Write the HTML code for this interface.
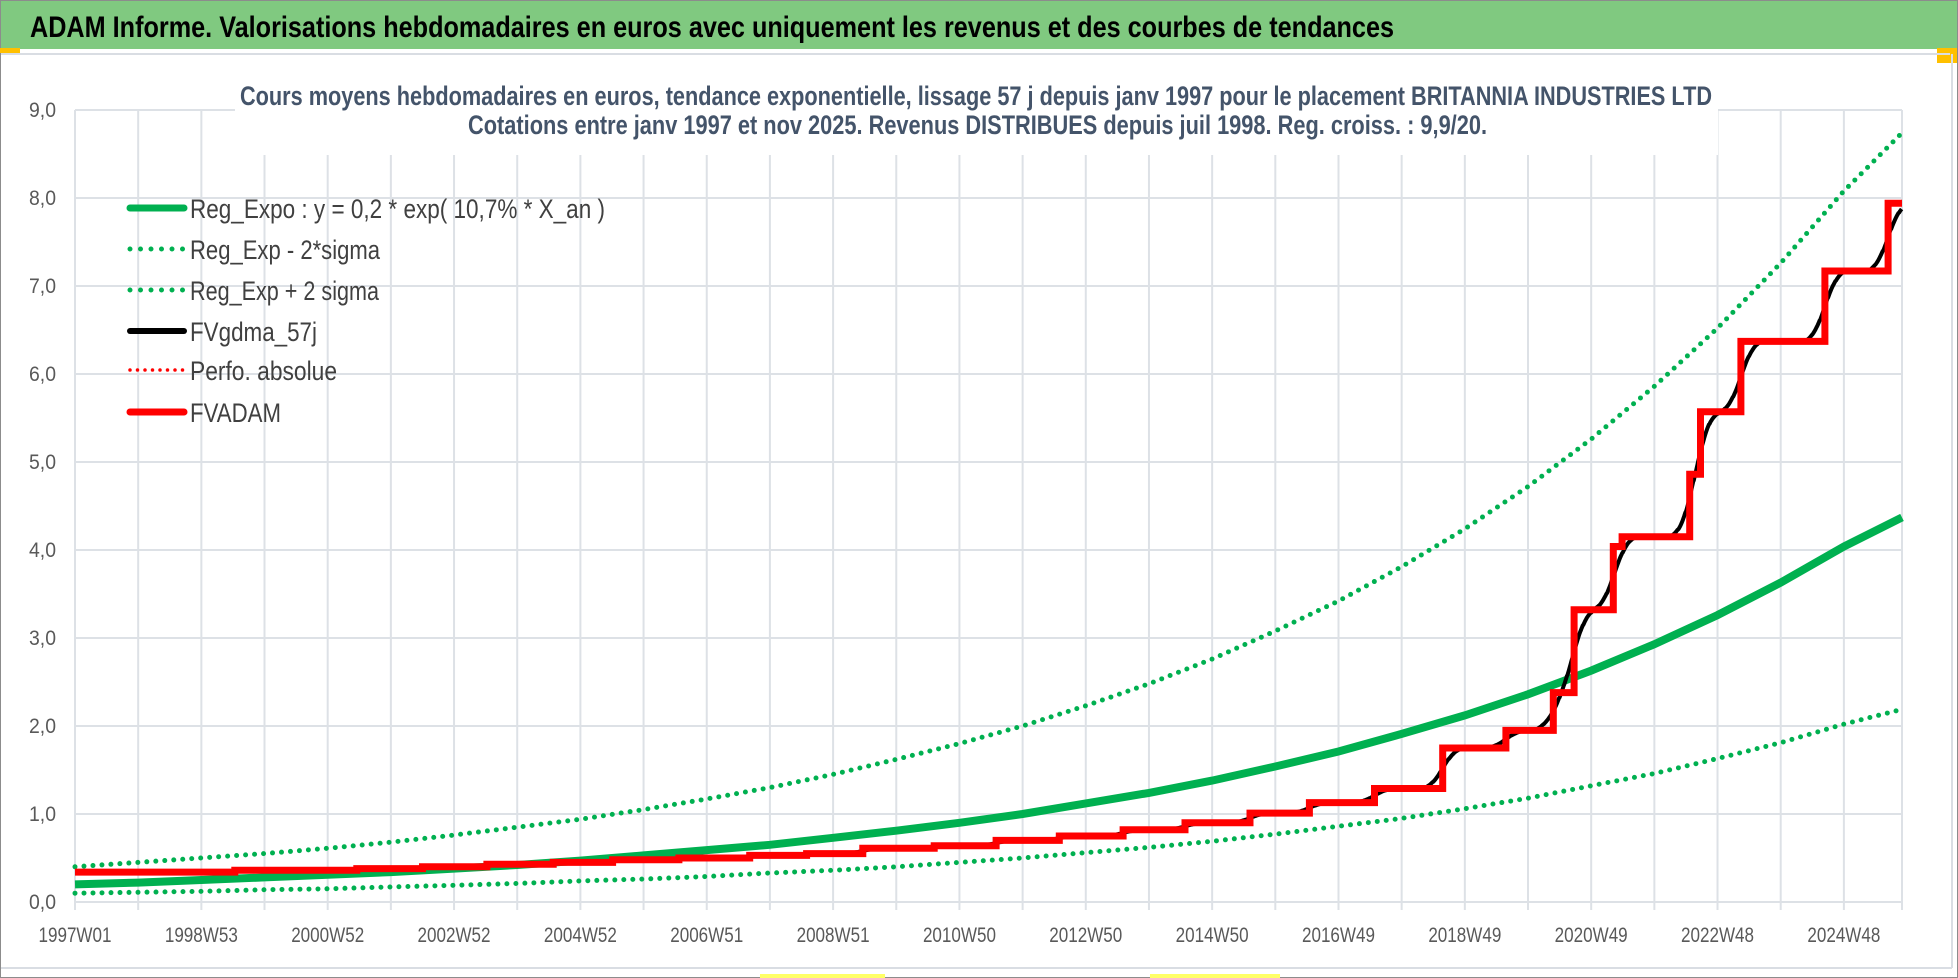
<!DOCTYPE html>
<html><head><meta charset="utf-8"><style>
html,body{margin:0;padding:0;background:#fff;}
svg{display:block;}
text{font-family:"Liberation Sans Narrow","Liberation Sans",sans-serif;}
</style></head><body>
<svg id="chart" width="1958" height="978" viewBox="0 0 1958 978" xmlns="http://www.w3.org/2000/svg">
<rect x="0" y="0" width="1958" height="978" fill="#fff"/>
<rect x="0.5" y="0.5" width="1957" height="977" fill="none" stroke="#8c8c8c"/>
<rect x="1" y="1" width="1956" height="48" fill="#80c980"/>
<text x="30" y="37" font-size="30" font-weight="bold" fill="#000" textLength="1364" lengthAdjust="spacingAndGlyphs">ADAM Informe. Valorisations hebdomadaires en euros avec uniquement les revenus et des courbes de tendances</text>
<rect x="0" y="48" width="20" height="5" fill="#ffc000"/>
<rect x="1937" y="48" width="20" height="15" fill="#ffc000"/>
<line x1="1" y1="54" x2="1950" y2="54" stroke="#d9dde3" stroke-width="2"/>
<line x1="1952" y1="54" x2="1952" y2="968" stroke="#d9dde3" stroke-width="2"/>
<line x1="1" y1="968" x2="1952" y2="968" stroke="#d9dde3" stroke-width="2"/>
<rect x="760" y="974" width="125" height="4" fill="#ffff66"/>
<rect x="1150" y="974" width="130" height="4" fill="#ffff66"/>
<g id="grid"></g>
<g id="ylabels"></g>
<g id="xlabels"></g>
<rect x="235" y="78" width="1483" height="77" fill="#fff"/>
<text x="240" y="105" font-size="27" font-weight="bold" fill="#44546a" textLength="1472" lengthAdjust="spacingAndGlyphs">Cours moyens hebdomadaires en euros, tendance exponentielle, lissage 57 j depuis janv 1997 pour le placement BRITANNIA  INDUSTRIES LTD</text>
<text x="468" y="134" font-size="27" font-weight="bold" fill="#44546a" textLength="1019" lengthAdjust="spacingAndGlyphs">Cotations entre janv 1997 et nov 2025. Revenus DISTRIBUES depuis juil 1998. Reg. croiss. : 9,9/20.</text>
<g id="series"></g>
<g id="legend">
<g>
<line x1="130" y1="208" x2="184" y2="208" stroke="#00b050" stroke-width="7" stroke-linecap="round"/>
<text x="190" y="218" font-size="27" fill="#404040" textLength="415" lengthAdjust="spacingAndGlyphs">Reg_Expo : y = 0,2 * exp( 10,7% *  X_an )</text></g>
<g>
<line x1="130" y1="249" x2="185" y2="249" stroke="#00b050" stroke-width="5" stroke-linecap="round" stroke-dasharray="0 10.5"/>
<text x="190" y="259" font-size="27" fill="#404040" textLength="190" lengthAdjust="spacingAndGlyphs">Reg_Exp - 2*sigma</text></g>
<g>
<line x1="130" y1="290" x2="185" y2="290" stroke="#00b050" stroke-width="5" stroke-linecap="round" stroke-dasharray="0 10.5"/>
<text x="190" y="300" font-size="27" fill="#404040" textLength="189" lengthAdjust="spacingAndGlyphs">Reg_Exp + 2 sigma</text></g>
<g>
<line x1="130" y1="331" x2="184" y2="331" stroke="#000" stroke-width="6" stroke-linecap="round"/>
<text x="190" y="341" font-size="27" fill="#404040" textLength="127" lengthAdjust="spacingAndGlyphs">FVgdma_57j</text></g>
<g>
<line x1="130" y1="370" x2="183" y2="370" stroke="#ff0000" stroke-width="3.5" stroke-linecap="round" stroke-dasharray="0 7.5"/>
<text x="190" y="380" font-size="27" fill="#404040" textLength="147" lengthAdjust="spacingAndGlyphs">Perfo. absolue</text></g>
<g>
<line x1="130" y1="412" x2="184" y2="412" stroke="#ff0000" stroke-width="7" stroke-linecap="round"/>
<text x="190" y="422" font-size="27" fill="#404040" textLength="91" lengthAdjust="spacingAndGlyphs">FVADAM</text></g>
</g>
</svg>
<script>
// Data (t = years since 1997W01)
const trendT = [0,1,2,3,4,5,6,7,8,9,10,11,12,13,14,15,16,17,18,19,20,21,22,23,24,25,26,27,28,28.92];
const trendVals = [0.20,0.22,0.25,0.28,0.31,0.34,0.38,0.42,0.47,0.53,0.59,0.65,0.73,0.81,0.90,1.00,1.12,1.24,1.38,1.54,1.71,1.91,2.12,2.36,2.63,2.93,3.26,3.63,4.04,4.37];
const upperVals = [0.40,0.45,0.50,0.55,0.61,0.68,0.76,0.85,0.94,1.05,1.17,1.30,1.45,1.62,1.80,2.00,2.23,2.48,2.76,3.08,3.42,3.81,4.24,4.72,5.26,5.86,6.52,7.26,8.08,8.74];
const lowerVals = [0.10,0.11,0.12,0.14,0.15,0.17,0.19,0.21,0.24,0.26,0.29,0.33,0.36,0.40,0.45,0.50,0.56,0.62,0.69,0.77,0.86,0.95,1.06,1.18,1.32,1.46,1.63,1.81,2.02,2.19];
const stepStarts = [0,2.53,4.46,5.5,6.52,7.57,8.51,9.56,10.68,11.58,12.47,13.6,14.58,15.58,16.59,17.57,18.6,19.54,20.57,21.65,22.65,23.4,23.73,24.35,24.49,25.56,25.73,26.37,27.7,28.7];
const stepVals = [0.34,0.36,0.38,0.40,0.43,0.45,0.48,0.50,0.53,0.55,0.61,0.64,0.70,0.75,0.82,0.90,1.01,1.13,1.29,1.75,1.95,2.38,3.32,4.04,4.15,4.86,5.57,6.37,7.17,7.94];
const endT = 28.92;
const xTickT = [0,2,4,6,8,10,12,14,16,18,20,22,24,26,28];
const xTickLabels = ["1997W01","1998W53","2000W52","2002W52","2004W52","2006W51","2008W51","2010W50","2012W50","2014W50","2016W49","2018W49","2020W49","2022W48","2024W48"];
const yTicks = [0,1,2,3,4,5,6,7,8,9];
const yTickLabels = ["0,0","1,0","2,0","3,0","4,0","5,0","6,0","7,0","8,0","9,0"];

const NS = "http://www.w3.org/2000/svg";
const X0 = 75, X1 = 1902, Y0 = 902, Y9 = 110;
function xs(t){ return X0 + t * (X1 - X0) / endT; }
function ys(v){ return Y0 - v * (Y0 - Y9) / 9; }
function mk(tag, attrs, parent){ const e = document.createElementNS(NS, tag); for (const k in attrs) e.setAttribute(k, attrs[k]); parent.appendChild(e); return e; }

const grid = document.getElementById('grid');
for (let i = 0; i <= 28; i++) {
  const l = mk('line', {x1: xs(i), x2: xs(i), y1: Y9, y2: 910, stroke: '#dde1e6', 'stroke-width': 2}, grid);
  
  
}
const rl = mk('line', {x1: X1, x2: X1, y1: Y9, y2: 910, stroke: '#dde1e6', 'stroke-width': 2}, grid);


const yl = document.getElementById('ylabels');
yTicks.forEach((v, i) => {
  const l = mk('line', {x1: X0, x2: X1, y1: ys(v), y2: ys(v), stroke: '#dde1e6', 'stroke-width': 2}, grid);
  
  
  const t = mk('text', {x: 56, y: ys(v) + 7, 'font-size': 21, fill: '#595959', 'text-anchor': 'end', textLength: 27, lengthAdjust: 'spacingAndGlyphs'}, yl);
  t.textContent = yTickLabels[i];
  
  
});
const xl = document.getElementById('xlabels');
xTickT.forEach((tt, i) => {
  const t = mk('text', {x: xs(tt), y: 942, 'font-size': 21, fill: '#595959', 'text-anchor': 'middle', textLength: 73, lengthAdjust: 'spacingAndGlyphs'}, xl);
  t.textContent = xTickLabels[i];
  
  
});

const ser = document.getElementById('series');
function curve(vals){ return trendT.map((t, i) => xs(t).toFixed(1) + ',' + ys(vals[i]).toFixed(1)).join(' '); }
const up = mk('polyline', {points: curve(upperVals), fill: 'none', stroke: '#00b050', 'stroke-width': 5, 'stroke-linecap': 'round', 'stroke-dasharray': '0 9'}, ser);


const lo = mk('polyline', {points: curve(lowerVals), fill: 'none', stroke: '#00b050', 'stroke-width': 5, 'stroke-linecap': 'round', 'stroke-dasharray': '0 9'}, ser);


const tr = mk('polyline', {points: curve(trendVals), fill: 'none', stroke: '#00b050', 'stroke-width': 8}, ser);



function stepAt(t){ let v = stepVals[0]; for (let i = 0; i < stepStarts.length; i++) if (stepStarts[i] <= t) v = stepVals[i]; return v; }
// smoothed series: triangular moving average of the FVADAM step series
const bpts = [];
for (let t = 0; t <= endT + 1e-9; t += 1/104) {
  let s = 0, n = 0;
  for (let u = -0.35; u <= 0.3501; u += 0.005) {
    const w = Math.max(0.02, 1 - Math.abs(u) / 0.36);
    s += w * stepAt(Math.max(0, Math.min(endT, t + u))); n += w;
  }
  bpts.push(xs(t).toFixed(1) + ',' + ys(s / n).toFixed(1));
}
const bl = mk('polyline', {points: bpts.join(' '), fill: 'none', stroke: '#000', 'stroke-width': 4}, ser);



let rp = [];
stepStarts.forEach((s, i) => {
  const e = i + 1 < stepStarts.length ? stepStarts[i + 1] : endT;
  rp.push(xs(s).toFixed(1) + ',' + ys(stepVals[i]).toFixed(1));
  rp.push(xs(e).toFixed(1) + ',' + ys(stepVals[i]).toFixed(1));
});
const rd = mk('polyline', {points: rp.join(' '), fill: 'none', stroke: '#ff0000', 'stroke-width': 7, 'stroke-linejoin': 'miter'}, ser);


</script>
</body></html>
